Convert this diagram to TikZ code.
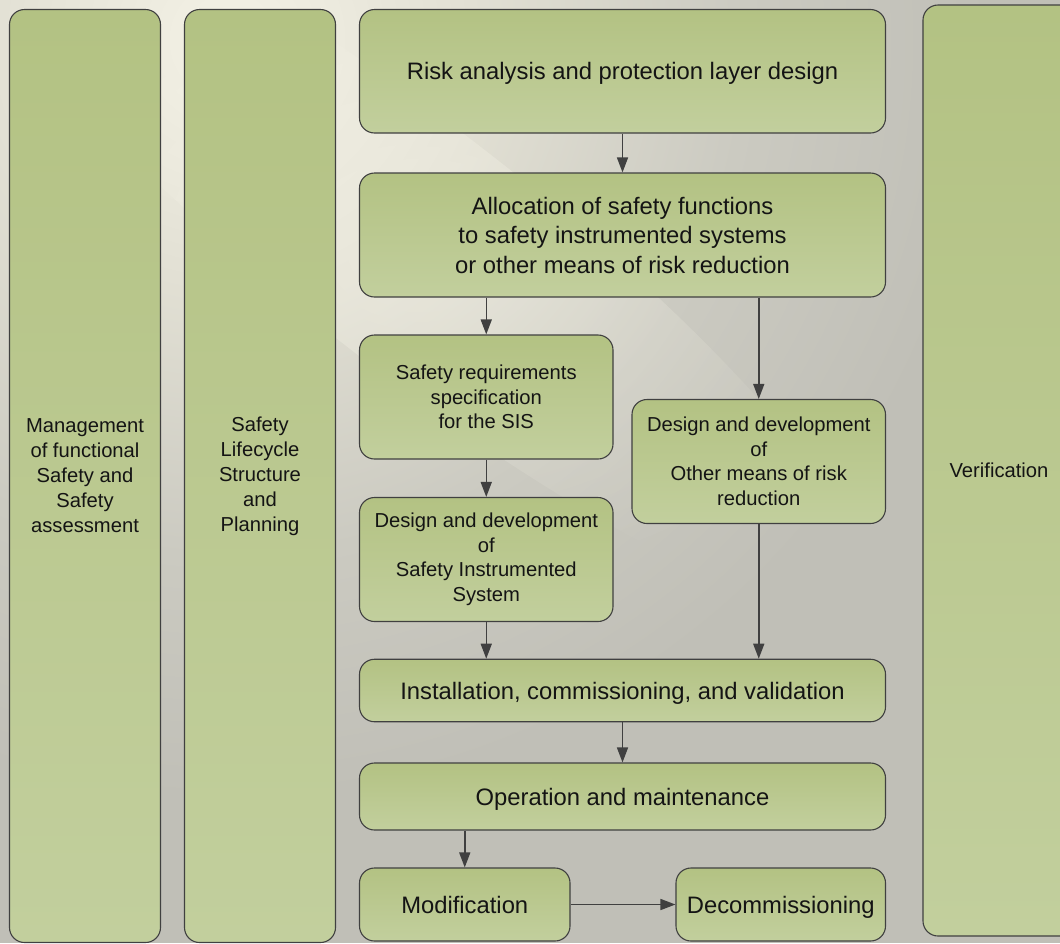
\documentclass[tikz,border=0pt]{standalone}
\usepackage{fontspec}
\setmainfont{Liberation Sans}
\usetikzlibrary{arrows.meta,fadings}
\definecolor{boxtop}{HTML}{B3C283}
\definecolor{boxbot}{HTML}{C2CF9D}
\definecolor{edgecol}{HTML}{404040}
\definecolor{txtcol}{HTML}{141414}
\definecolor{bgA}{HTML}{F4F2E6}
\definecolor{bgB}{HTML}{E2E0D4}
\definecolor{bgC}{HTML}{CBCAC1}
\definecolor{bgD}{HTML}{C0BFB7}
\definecolor{glowcol}{HTML}{F6F4E8}
\pgfdeclareradialshading{bgglow}{\pgfpoint{0bp}{0bp}}{color(0bp)=(bgA); color(8bp)=(bgB); color(17bp)=(bgC); color(25bp)=(bgD); color(50bp)=(bgD)}
\tikzfading[name=softglow, inner color=transparent!0, outer color=transparent!100]
\begin{document}
\begin{tikzpicture}[x=1pt,y=-1pt,
  box/.style={draw=edgecol, line width=1.1pt, rounded corners=15pt, top color=boxtop, bottom color=boxbot, align=center, inner sep=0pt, text=txtcol},
  big/.style={font=\fontsize{23.8}{29.5}\selectfont},
  oneline/.style={big, text height=17pt, text depth=0pt},
  small/.style={font=\fontsize{20.2}{24.5}\selectfont},
  side/.style={font=\fontsize{20.2}{25}\selectfont},
  arr/.style={draw=edgecol, line width=1.5pt, -{Triangle[width=11pt,length=15pt]}}]
\useasboundingbox (0,0) rectangle (1060,943);
\clip (0,0) rectangle (1060,943);
\fill[bgD] (0,0) rectangle (1060,943);
\shade[shading=bgglow] (230,40) circle[radius=760];
\begin{scope}[shift={(420,250)}, rotate=-38]
  \fill[glowcol, fill opacity=0.45, path fading=softglow] (0,0) ellipse[x radius=560, y radius=120];
\end{scope}

\node[box, side, minimum width=151pt, minimum height=933pt] (mgmt) at (85,476)
  {Management\\of functional\\Safety and\\Safety\\assessment};
\node[box, side, minimum width=151pt, minimum height=933pt] (plan) at (260,476)
  {Safety\\Lifecycle\\Structure\\and\\Planning};
\node[box, small, minimum width=152pt, minimum height=931pt] (verif) at (999,470.5)
  {Verification};

\node[box, oneline, minimum width=526pt, minimum height=123.5pt] (risk) at (622.5,71.25)
  {Risk analysis and protection layer design};
\node[box, big, minimum width=526pt, minimum height=124pt] (alloc) at (622.5,235)
  {Allocation of safety functions\\to safety instrumented systems\\or other means of risk reduction};
\node[box, small, minimum width=253.5pt, minimum height=124pt] (srs) at (486.25,397)
  {Safety requirements\\specification\\for the SIS};
\node[box, small, minimum width=253.5pt, minimum height=124pt] (other) at (758.75,461.5)
  {Design and development\\of\\Other means of risk\\reduction};
\node[box, small, minimum width=253.5pt, minimum height=124pt] (sis) at (486.25,559.5)
  {Design and development\\of\\Safety Instrumented\\System};
\node[box, oneline, minimum width=526pt, minimum height=62.5pt] (inst) at (622.5,690.5)
  {Installation, commissioning, and validation};
\node[box, oneline, minimum width=526pt, minimum height=67pt] (oper) at (622.5,796.5)
  {Operation and maintenance};
\node[box, oneline, minimum width=210.5pt, minimum height=73pt] (mod) at (464.75,904.5)
  {Modification};
\node[box, oneline, minimum width=209.5pt, minimum height=73pt] (decom) at (780.75,904.5)
  {Decommissioning};

\draw[arr] (risk.south) -- (alloc.north);
\draw[arr] (alloc.south -| srs.north) -- (srs.north);
\draw[arr] (alloc.south -| other.north) -- (other.north);
\draw[arr] (srs.south) -- (sis.north);
\draw[arr] (sis.south) -- (sis.south |- inst.north);
\draw[arr] (other.south) -- (other.south |- inst.north);
\draw[arr] (inst.south) -- (oper.north);
\draw[arr] (oper.south -| mod.north) -- (mod.north);
\draw[arr] (mod.east) -- (decom.west);
\end{tikzpicture}
\end{document}
